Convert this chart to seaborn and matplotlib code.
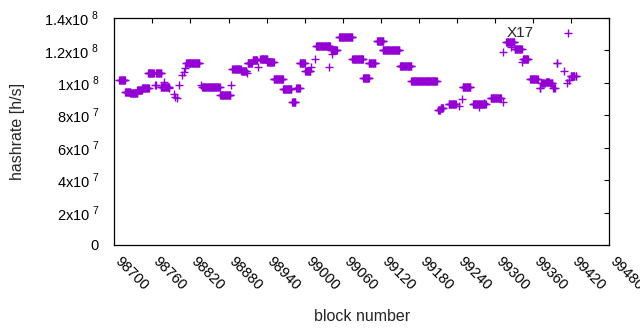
import numpy as np
import pandas as pd
import matplotlib
matplotlib.use('Agg')
import matplotlib.pyplot as plt
import matplotlib.transforms as mtransforms
import seaborn as sns
from matplotlib.ticker import FuncFormatter

# ===== DATA (runs of blocks sharing the same hashrate) =====
seg_start = [98708, 98717, 98725, 98736, 98744, 98753, 98764, 98766, 98773, 98779,
             98786, 98794, 98795, 98799, 98802, 98807, 98810, 98812, 98813, 98837,
             98838, 98867, 98884, 98886, 98900, 98909, 98910, 98918, 98927, 98930,
             98941, 98951, 98966, 98980, 98987, 98992, 99001, 99010, 99017, 99018,
             99039, 99042, 99043, 99054, 99075, 99092, 99101, 99114, 99123, 99150,
             99168, 99210, 99214, 99227, 99243, 99248, 99249, 99265, 99275, 99283,
             99293, 99312, 99313, 99317, 99325, 99331, 99343, 99344, 99355, 99370,
             99373, 99380, 99387, 99392, 99397, 99408, 99413, 99415, 99416, 99419,
             99427]
seg_end = [98717, 98725, 98736, 98743, 98754, 98762, 98765, 98774, 98786, 98779,
           98786, 98794, 98795, 98799, 98802, 98807, 98810, 98812, 98834, 98837,
           98866, 98883, 98884, 98899, 98908, 98909, 98917, 98925, 98927, 98941,
           98951, 98966, 98979, 98985, 98992, 99000, 99009, 99010, 99017, 99040,
           99039, 99051, 99043, 99075, 99092, 99101, 99111, 99124, 99149, 99168,
           99208, 99213, 99218, 99238, 99243, 99248, 99261, 99285, 99275, 99283,
           99309, 99312, 99313, 99330, 99325, 99342, 99343, 99352, 99367, 99371,
           99378, 99385, 99390, 99394, 99398, 99408, 99413, 99415, 99417, 99425,
           99428]
seg_value = [1.018, 0.945, 0.936, 0.955, 0.966, 1.059, 0.987, 1.059, 0.976, 1.003,
             0.966, 0.930, 0.915, 0.905, 0.987, 1.048, 1.069, 1.090, 1.120, 0.985,
             0.976, 0.925, 0.987, 1.085, 1.075, 1.060, 1.120, 1.140, 1.100, 1.150,
             1.130, 1.024, 0.960, 0.880, 0.970, 1.120, 1.070, 1.100, 1.150, 1.225,
             1.100, 1.200, 1.180, 1.280, 1.145, 1.028, 1.120, 1.258, 1.200, 1.104,
             1.010, 0.830, 0.847, 0.868, 0.857, 0.900, 0.973, 0.868, 0.853, 0.874,
             0.905, 0.884, 1.190, 1.254, 1.220, 1.207, 1.130, 1.150, 1.022, 0.970,
             0.997, 1.007, 0.997, 0.970, 1.124, 1.073, 0.997, 1.310, 1.020, 1.040,
             1.045]

blocks, rates = [], []
for s, e, v in zip(seg_start, seg_end, seg_value):
    for b in range(s, e + 1):
        blocks.append(b)
        rates.append(v * 1e8)
df = pd.DataFrame({'block': blocks, 'hashrate': rates})

x_ticks = list(range(98700, 99481, 60))
y_ticks = [0, 2e7, 4e7, 6e7, 8e7, 1e8, 1.2e8, 1.4e8]

# ===== PLOT =====
sns.set_style('white')
plt.rcParams['font.family'] = ['Liberation Sans', 'DejaVu Sans']
plt.rcParams['mathtext.fontset'] = 'custom'
plt.rcParams['mathtext.rm'] = 'Liberation Sans'

fig = plt.figure(figsize=(6.4, 3.3), dpi=100)
ax = fig.add_axes([0.1786, 0.2576, 0.7735, 0.6879])

sns.scatterplot(data=df, x='block', y='hashrate', marker='+', s=26,
                color='#9400d3', linewidth=1.0, ax=ax, legend=False)

ax.set_xlim(98700, 99480)
ax.set_ylim(0, 1.4e8)
ax.set_xticks(x_ticks)
ax.set_yticks(y_ticks)


def sci_fmt(v, pos):
    if v <= 0:
        return '0'
    e = int(np.floor(np.log10(v) + 1e-9))
    m = v / 10 ** e
    return '%gx10$^{\\ %d}$' % (round(m, 2), e)


ax.yaxis.set_major_formatter(FuncFormatter(sci_fmt))
ax.tick_params(axis='both', direction='in', length=3.5, width=0.8,
               top=True, right=True, labelsize=10.5, colors='black')
ax.tick_params(axis='y', pad=11)
ax.tick_params(axis='x', pad=7)
shift = mtransforms.ScaledTranslation(8 / 100, 0, fig.dpi_scale_trans)
for lbl in ax.get_xticklabels():
    lbl.set_rotation(-45)
    lbl.set_ha('left')
    lbl.set_va('top')
    lbl.set_rotation_mode('anchor')
    lbl.set_transform(lbl.get_transform() + shift)

for sp in ax.spines.values():
    sp.set_visible(True)
    sp.set_color('black')
    sp.set_linewidth(0.9)

ax.text(99340, 1.31e8, 'X17', ha='center', va='center', fontsize=11)
ax.set_xlabel('block number', fontsize=11.5, labelpad=11)
ax.set_ylabel('hashrate [h/s]', fontsize=11.5, labelpad=14)

fig.savefig('out.png', dpi=100)
